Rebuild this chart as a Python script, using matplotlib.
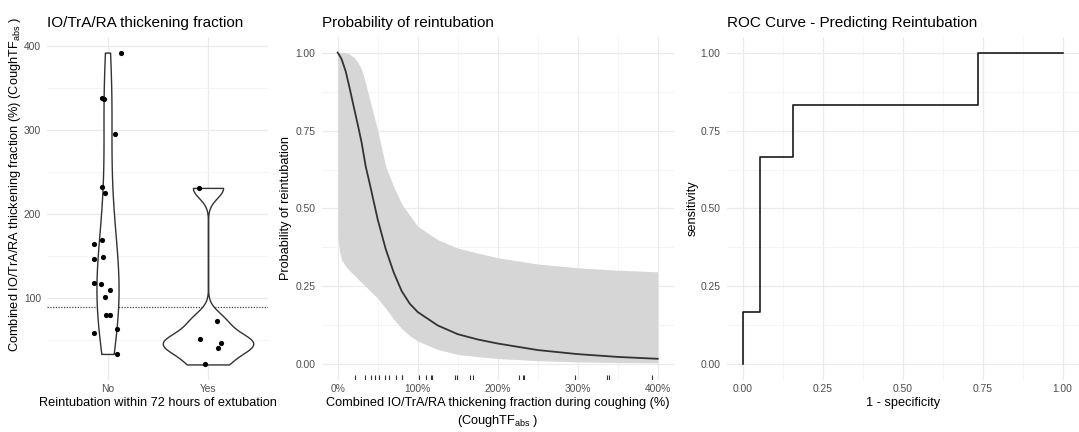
import numpy as np
import matplotlib
matplotlib.use("Agg")
import matplotlib.pyplot as plt
from matplotlib.ticker import MultipleLocator, FuncFormatter

plt.rcParams['font.family'] = ['Liberation Sans', 'DejaVu Sans']
plt.rcParams['mathtext.fontset'] = 'custom'
plt.rcParams['mathtext.rm'] = 'Liberation Sans'

# thickening fraction (%) per patient, split by reintubation outcome
groups = ["No", "Yes"]
tf_no = [392.5, 338.5, 337, 296, 233, 226, 169, 165, 149, 147, 118, 117, 110, 102, 80, 80, 63.5, 59, 34]
jit_no = [0.13, -0.05, -0.03, 0.07, -0.05, -0.025, -0.055, -0.135, -0.045, -0.13,
          -0.135, -0.065, 0.02, -0.02, -0.01, 0.02, 0.09, -0.13, 0.095]
tf_yes = [231.5, 73.4, 52, 46.5, 41.3, 21.5]
jit_yes = [-0.09, 0.087, -0.08, 0.127, 0.097, -0.03]
cutoff = 90

# logistic model: predicted probability and 95% band
pred_x = [0, 0.025, 0.05, 0.1, 0.15, 0.2, 0.25, 0.3, 0.35, 0.4, 0.5, 0.6, 0.7, 0.8, 0.9,
          1.0, 1.25, 1.5, 1.75, 2.0, 2.5, 3.0, 3.5, 4.0]
pred_p = [1.0, 0.99, 0.978, 0.94, 0.885, 0.827, 0.77, 0.71, 0.635, 0.58, 0.465, 0.37, 0.295,
          0.235, 0.195, 0.168, 0.125, 0.097, 0.08, 0.067, 0.046, 0.033, 0.024, 0.018]
pred_lo = [0.41, 0.36, 0.335, 0.315, 0.30, 0.288, 0.275, 0.262, 0.25, 0.237, 0.212, 0.18, 0.145,
           0.115, 0.092, 0.075, 0.048, 0.032, 0.025, 0.019, 0.012, 0.008, 0.006, 0.005]
pred_hi = [1.0, 1.0, 1.0, 1.0, 0.995, 0.985, 0.97, 0.945, 0.90, 0.85, 0.75, 0.635, 0.57,
           0.515, 0.478, 0.443, 0.40, 0.373, 0.357, 0.342, 0.322, 0.31, 0.302, 0.297]

# ROC curve coordinates
fpr = [0, 0, 1 / 19, 3 / 19, 14 / 19, 1.0]
tpr = [0, 1 / 6, 4 / 6, 5 / 6, 1.0, 1.0]

TICK_COLOR = '#4D4D4D'
GRID = '#EBEBEB'
LINE = '#333333'


def style(ax):
    for s in ax.spines.values():
        s.set_visible(False)
    ax.tick_params(which='both', length=0, labelsize=7.4, labelcolor=TICK_COLOR)
    ax.tick_params(axis='x', pad=3)
    ax.tick_params(axis='y', pad=4.5)
    ax.grid(which='major', color=GRID, lw=0.9)
    ax.grid(which='minor', color='#F2F2F2', lw=0.6)
    ax.set_axisbelow(True)


def label_text(ax, title, xlab, ylab, ylab_x, ylab_y=0.5):
    ax.text(0, 1.0408, title, transform=ax.transAxes, ha='left', va='center', fontsize=11)
    if xlab is not None:
        ax.text(0.5, -0.067, xlab, transform=ax.transAxes, ha='center', va='center', fontsize=9.2)
    ax.text(ylab_x, ylab_y, ylab, transform=ax.transAxes, rotation=90,
            ha='center', va='center', fontsize=9.2)


def nrd0(v):
    v = np.asarray(v, float)
    q75, q25 = np.percentile(v, [75, 25])
    return 0.9 * min(v.std(ddof=1), (q75 - q25) / 1.34) * len(v) ** -0.2


def kde(v, grid):
    v = np.asarray(v, float)
    h = nrd0(v)
    z = (grid[:, None] - v[None, :]) / h
    return np.exp(-0.5 * z ** 2).sum(axis=1) / (len(v) * h * np.sqrt(2 * np.pi))


W, H = 1079, 432
fig = plt.figure(figsize=(W / 100, H / 100), dpi=100)
bottom, height = 52 / H, 343 / H
ax1 = fig.add_axes([47.2 / W, bottom, 221.1 / W, height])
ax2 = fig.add_axes([321.7 / W, bottom, 352 / W, height])
ax3 = fig.add_axes([726.7 / W, bottom, 352 / W, height])

# --- violin + jittered points ---
style(ax1)
dens = []
for vals in (tf_no, tf_yes):
    ys = np.linspace(min(vals), max(vals), 512)
    dens.append((ys, kde(vals, ys)))
dmax = max(d.max() for _, d in dens)
for pos, (ys, d) in zip([1, 2], dens):
    w = 0.45 * d / dmax
    ax1.fill_betweenx(ys, pos - w, pos + w, facecolor='white', edgecolor=LINE, lw=1.0, zorder=2)
ax1.scatter(1 + np.array(jit_no), tf_no, s=14, color='black', lw=0, zorder=3)
ax1.scatter(2 + np.array(jit_yes), tf_yes, s=14, color='black', lw=0, zorder=3)
ax1.axhline(cutoff, color='#444444', ls=(0, (1, 1.2)), lw=0.9, zorder=1)
ax1.set_xlim(0.4, 2.6)
ax1.set_ylim(3, 411)
ax1.set_xticks([1, 2])
ax1.set_xticklabels(groups)
ax1.set_yticks([100, 200, 300, 400])
ax1.yaxis.set_minor_locator(MultipleLocator(50))
label_text(ax1, "IO/TrA/RA thickening fraction", "Reintubation within 72 hours of extubation",
           r"Combined IO/TrA/RA thickening fraction (%) (CoughTF$_{\mathregular{abs}}$ )",
           -0.146, 0.571)

# --- predicted probability ---
style(ax2)
ax2.fill_between(pred_x, pred_lo, pred_hi, color='#D6D6D6', lw=0, zorder=1)
ax2.plot(pred_x, pred_p, color=LINE, lw=1.3, zorder=2)
rug = np.array(tf_no + tf_yes) / 100
ax2.vlines(rug, 0, 0.014, transform=ax2.get_xaxis_transform(), color=LINE, lw=0.8)
ax2.set_xlim(-0.2, 4.2)
ax2.set_ylim(-0.05, 1.05)
ax2.xaxis.set_major_locator(MultipleLocator(1))
ax2.xaxis.set_minor_locator(MultipleLocator(0.5))
ax2.yaxis.set_major_locator(MultipleLocator(0.25))
ax2.yaxis.set_minor_locator(MultipleLocator(0.125))
ax2.xaxis.set_major_formatter(FuncFormatter(lambda v, _: f"{v * 100:.0f}%"))
ax2.yaxis.set_major_formatter(FuncFormatter(lambda v, _: f"{v:.2f}"))
label_text(ax2, "Probability of reintubation",
           "Combined IO/TrA/RA thickening fraction during coughing (%)",
           "Probability of reintubation", -0.101)
ax2.text(0.5, -0.1195, r"(CoughTF$_{\mathregular{abs}}$ )", transform=ax2.transAxes,
         ha='center', va='center', fontsize=9.2)

# --- ROC ---
style(ax3)
ax3.step(fpr, tpr, where='post', color='#1A1A1A', lw=1.2)
ax3.set_xlim(-0.05, 1.05)
ax3.set_ylim(-0.05, 1.05)
for axis in (ax3.xaxis, ax3.yaxis):
    axis.set_major_locator(MultipleLocator(0.25))
    axis.set_minor_locator(MultipleLocator(0.125))
    axis.set_major_formatter(FuncFormatter(lambda v, _: f"{v:.2f}"))
label_text(ax3, "ROC Curve - Predicting Reintubation", "1 - specificity", "sensitivity", -0.098)

fig.savefig("out.png", dpi=100)
